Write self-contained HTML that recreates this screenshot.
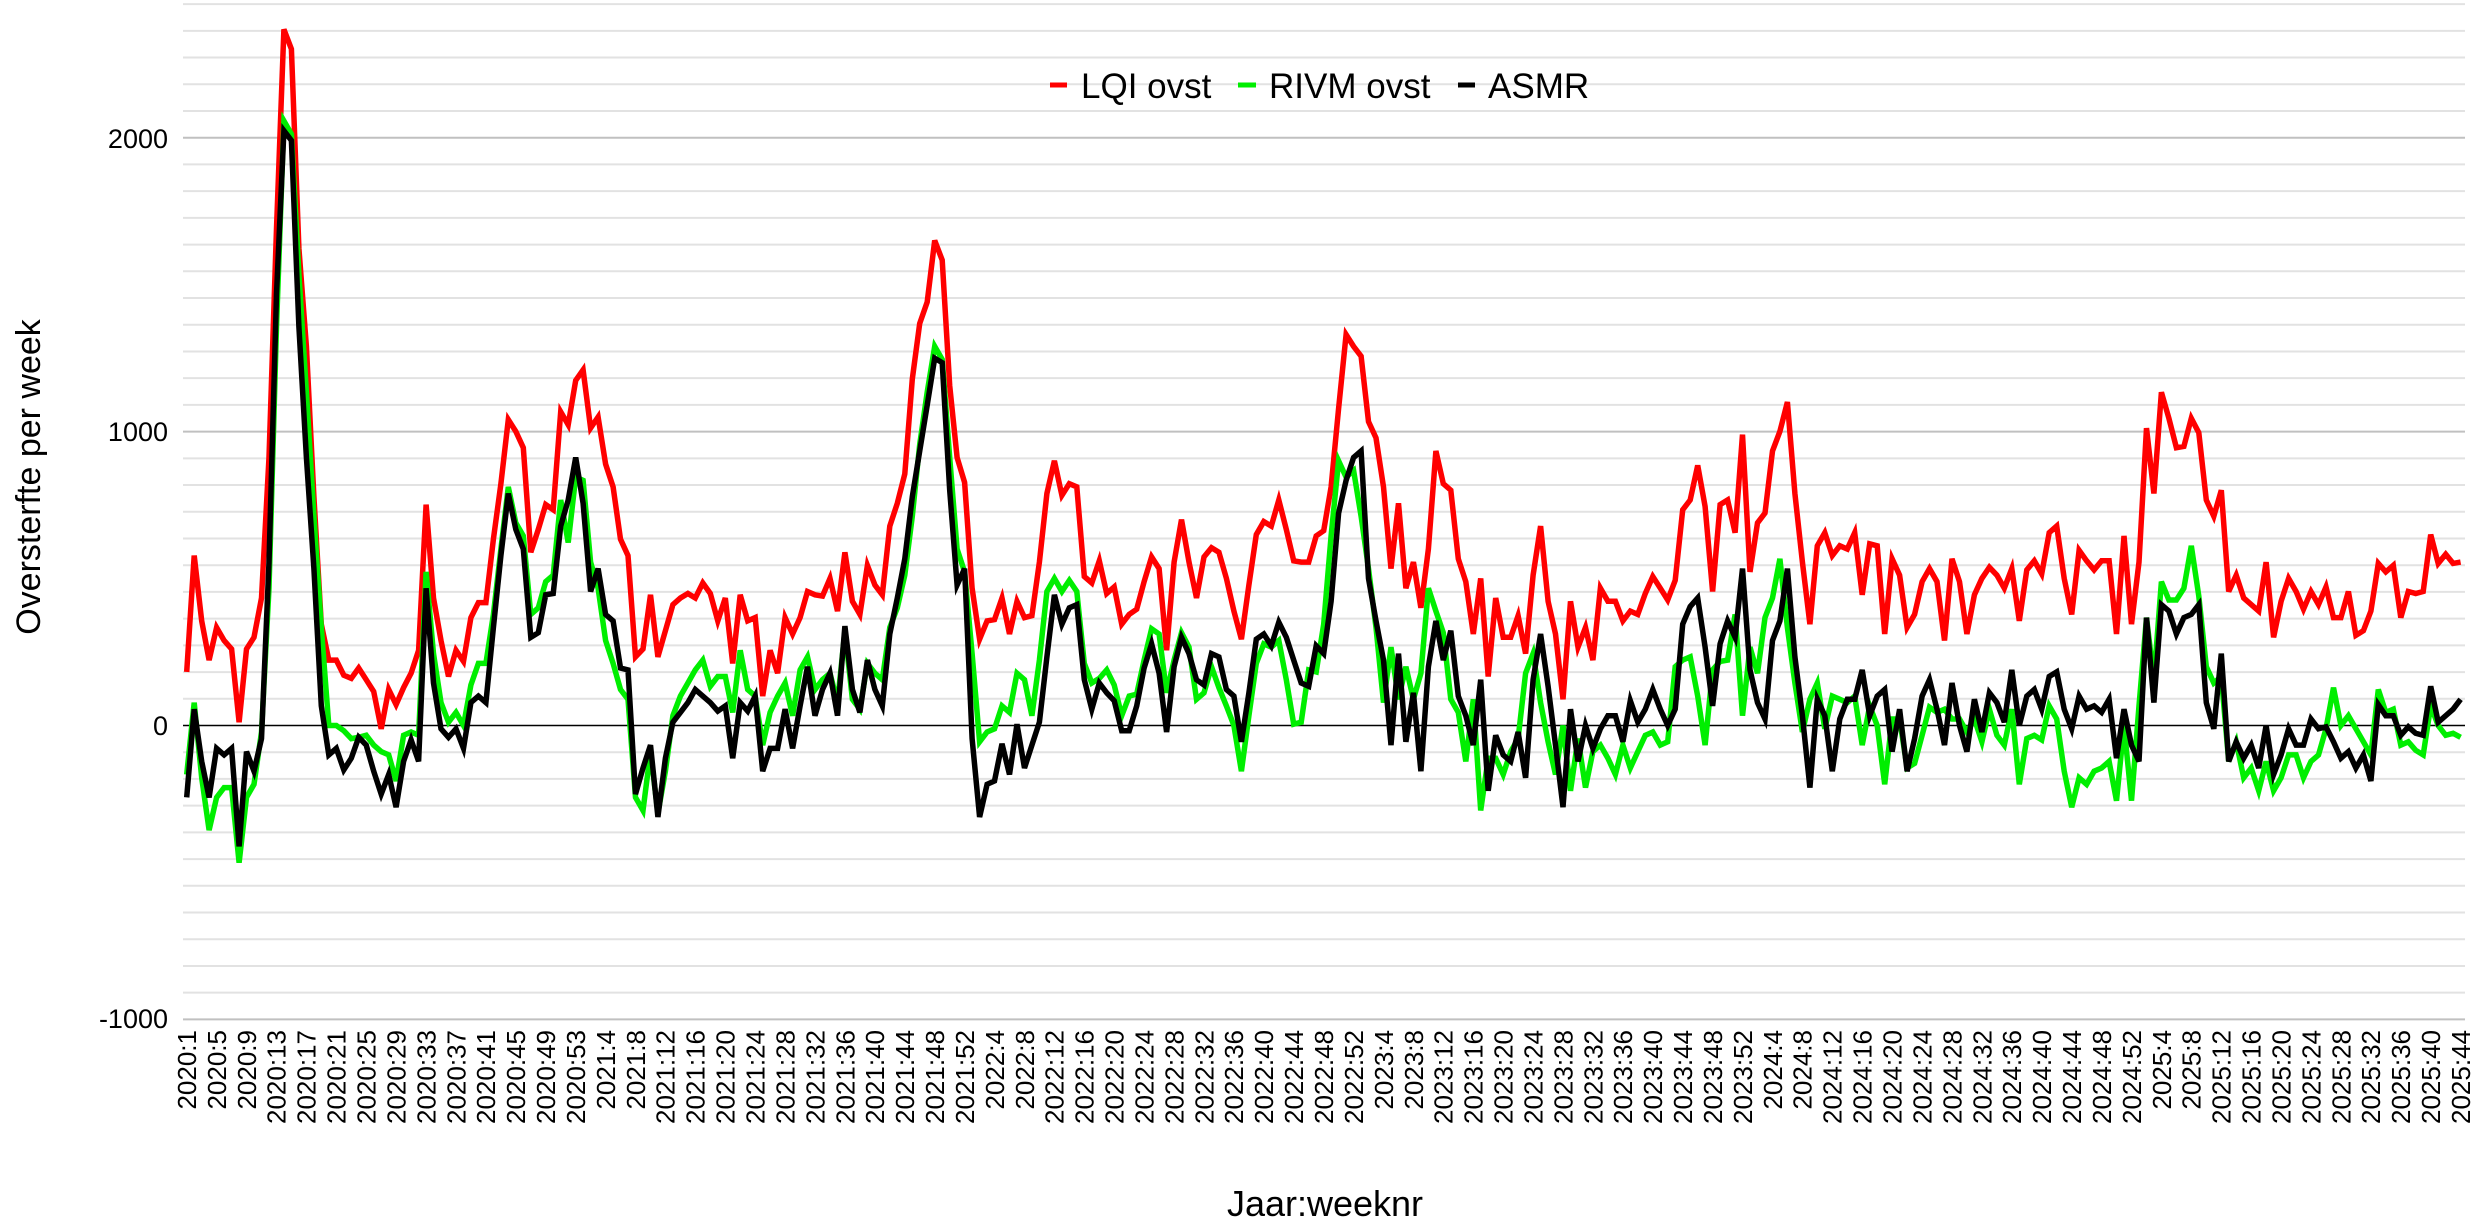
<!DOCTYPE html>
<html><head><meta charset="utf-8"><style>
html,body{margin:0;padding:0;background:#fff;}
svg{display:block;font-family:"Liberation Sans",Arial,sans-serif;}
</style></head><body>
<svg id="c" width="2478" height="1220" viewBox="0 0 2478 1220" xmlns="http://www.w3.org/2000/svg">
<g id="grid"></g>
<g id="series"></g>
<g font-size="27" text-anchor="end" fill="#000">
<text x="168" y="148">2000</text>
<text x="168" y="441">1000</text>
<text x="168" y="735">0</text>
<text x="168" y="1028">-1000</text>
</g>
<text transform="translate(40,477) rotate(-90)" font-size="34" text-anchor="middle">Oversterfte per week</text>
<text x="1325" y="1216" font-size="36" text-anchor="middle">Jaar:weeknr</text>
<g font-size="35">
<line x1="1050" y1="85" x2="1067" y2="85" stroke="#ff0000" stroke-width="5"/>
<text x="1081" y="98">LQI ovst</text>
<line x1="1238" y1="85" x2="1256" y2="85" stroke="#00ee00" stroke-width="5"/>
<text x="1269" y="98">RIVM ovst</text>
<line x1="1458" y1="85" x2="1475" y2="85" stroke="#000" stroke-width="5"/>
<text x="1488" y="98">ASMR</text>
</g>
<g id="xl" font-size="26" text-anchor="end">
<text transform="translate(196.0,1030) rotate(-90)">2020:1</text>
<text transform="translate(225.9,1030) rotate(-90)">2020:5</text>
<text transform="translate(255.8,1030) rotate(-90)">2020:9</text>
<text transform="translate(285.7,1030) rotate(-90)">2020:13</text>
<text transform="translate(315.7,1030) rotate(-90)">2020:17</text>
<text transform="translate(345.6,1030) rotate(-90)">2020:21</text>
<text transform="translate(375.5,1030) rotate(-90)">2020:25</text>
<text transform="translate(405.4,1030) rotate(-90)">2020:29</text>
<text transform="translate(435.4,1030) rotate(-90)">2020:33</text>
<text transform="translate(465.3,1030) rotate(-90)">2020:37</text>
<text transform="translate(495.2,1030) rotate(-90)">2020:41</text>
<text transform="translate(525.1,1030) rotate(-90)">2020:45</text>
<text transform="translate(555.0,1030) rotate(-90)">2020:49</text>
<text transform="translate(585.0,1030) rotate(-90)">2020:53</text>
<text transform="translate(614.9,1030) rotate(-90)">2021:4</text>
<text transform="translate(644.8,1030) rotate(-90)">2021:8</text>
<text transform="translate(674.7,1030) rotate(-90)">2021:12</text>
<text transform="translate(704.6,1030) rotate(-90)">2021:16</text>
<text transform="translate(734.6,1030) rotate(-90)">2021:20</text>
<text transform="translate(764.5,1030) rotate(-90)">2021:24</text>
<text transform="translate(794.4,1030) rotate(-90)">2021:28</text>
<text transform="translate(824.3,1030) rotate(-90)">2021:32</text>
<text transform="translate(854.3,1030) rotate(-90)">2021:36</text>
<text transform="translate(884.2,1030) rotate(-90)">2021:40</text>
<text transform="translate(914.1,1030) rotate(-90)">2021:44</text>
<text transform="translate(944.0,1030) rotate(-90)">2021:48</text>
<text transform="translate(973.9,1030) rotate(-90)">2021:52</text>
<text transform="translate(1003.9,1030) rotate(-90)">2022:4</text>
<text transform="translate(1033.8,1030) rotate(-90)">2022:8</text>
<text transform="translate(1063.7,1030) rotate(-90)">2022:12</text>
<text transform="translate(1093.6,1030) rotate(-90)">2022:16</text>
<text transform="translate(1123.5,1030) rotate(-90)">2022:20</text>
<text transform="translate(1153.5,1030) rotate(-90)">2022:24</text>
<text transform="translate(1183.4,1030) rotate(-90)">2022:28</text>
<text transform="translate(1213.3,1030) rotate(-90)">2022:32</text>
<text transform="translate(1243.2,1030) rotate(-90)">2022:36</text>
<text transform="translate(1273.2,1030) rotate(-90)">2022:40</text>
<text transform="translate(1303.1,1030) rotate(-90)">2022:44</text>
<text transform="translate(1333.0,1030) rotate(-90)">2022:48</text>
<text transform="translate(1362.9,1030) rotate(-90)">2022:52</text>
<text transform="translate(1392.8,1030) rotate(-90)">2023:4</text>
<text transform="translate(1422.8,1030) rotate(-90)">2023:8</text>
<text transform="translate(1452.7,1030) rotate(-90)">2023:12</text>
<text transform="translate(1482.6,1030) rotate(-90)">2023:16</text>
<text transform="translate(1512.5,1030) rotate(-90)">2023:20</text>
<text transform="translate(1542.4,1030) rotate(-90)">2023:24</text>
<text transform="translate(1572.4,1030) rotate(-90)">2023:28</text>
<text transform="translate(1602.3,1030) rotate(-90)">2023:32</text>
<text transform="translate(1632.2,1030) rotate(-90)">2023:36</text>
<text transform="translate(1662.1,1030) rotate(-90)">2023:40</text>
<text transform="translate(1692.1,1030) rotate(-90)">2023:44</text>
<text transform="translate(1722.0,1030) rotate(-90)">2023:48</text>
<text transform="translate(1751.9,1030) rotate(-90)">2023:52</text>
<text transform="translate(1781.8,1030) rotate(-90)">2024:4</text>
<text transform="translate(1811.7,1030) rotate(-90)">2024:8</text>
<text transform="translate(1841.7,1030) rotate(-90)">2024:12</text>
<text transform="translate(1871.6,1030) rotate(-90)">2024:16</text>
<text transform="translate(1901.5,1030) rotate(-90)">2024:20</text>
<text transform="translate(1931.4,1030) rotate(-90)">2024:24</text>
<text transform="translate(1961.3,1030) rotate(-90)">2024:28</text>
<text transform="translate(1991.3,1030) rotate(-90)">2024:32</text>
<text transform="translate(2021.2,1030) rotate(-90)">2024:36</text>
<text transform="translate(2051.1,1030) rotate(-90)">2024:40</text>
<text transform="translate(2081.0,1030) rotate(-90)">2024:44</text>
<text transform="translate(2111.0,1030) rotate(-90)">2024:48</text>
<text transform="translate(2140.9,1030) rotate(-90)">2024:52</text>
<text transform="translate(2170.8,1030) rotate(-90)">2025:4</text>
<text transform="translate(2200.7,1030) rotate(-90)">2025:8</text>
<text transform="translate(2230.6,1030) rotate(-90)">2025:12</text>
<text transform="translate(2260.6,1030) rotate(-90)">2025:16</text>
<text transform="translate(2290.5,1030) rotate(-90)">2025:20</text>
<text transform="translate(2320.4,1030) rotate(-90)">2025:24</text>
<text transform="translate(2350.3,1030) rotate(-90)">2025:28</text>
<text transform="translate(2380.2,1030) rotate(-90)">2025:32</text>
<text transform="translate(2410.2,1030) rotate(-90)">2025:36</text>
<text transform="translate(2440.1,1030) rotate(-90)">2025:40</text>
<text transform="translate(2470.0,1030) rotate(-90)">2025:44</text>
</g>
</svg>
<script>
(function(){
var NS="http://www.w3.org/2000/svg";
var grid=document.getElementById("grid");
function ln(x1,y1,x2,y2,c,w){var l=document.createElementNS(NS,"line");l.setAttribute("x1",x1);l.setAttribute("y1",y1);l.setAttribute("x2",x2);l.setAttribute("y2",y2);l.setAttribute("stroke",c);l.setAttribute("stroke-width",w);grid.appendChild(l);}
var y0=725.5,u=293.9/11;
for(var k=-11;k<=27;k++){var y=y0-k*u;
 if(k===0) continue;
 if(k%11===0) ln(183,y,2465,y,"#c0c0c0",2); else ln(183,y,2465,y,"#e2e2e2",2);}
ln(183,y0,2465,y0,"#000",1.5);
var red=[1028,850,950,1010,960,980,993,1105,993,975,915,700,350,45,75,380,530,760,955,1010,1010,1033,1038,1022,1040,1058,1115,1055,1078,1052,1030,995,772,915,980,1035,995,1012,945,922,922,825,740,642,660,685,845,810,772,780,630,650,582,566,655,638,710,745,825,850,1005,993,910,1005,965,925,915,908,915,892,908,950,915,1015,910,950,945,1065,995,
1030,945,970,945,905,910,912,885,935,845,920,940,865,895,910,805,770,725,580,495,462,368,398,590,700,738,900,978,950,948,915,970,920,945,942,860,755,705,758,740,745,882,892,858,908,898,955,940,932,890,852,870,995,860,795,860,915,852,838,845,885,935,978,895,818,798,805,765,810,858,860,860,820,812,745,625,512,
530,545,645,670,745,870,770,900,860,930,840,690,740,750,855,890,970,885,1035,915,975,975,942,1000,880,805,920,970,1070,920,990,960,1010,900,920,920,950,935,940,908,882,900,918,888,780,765,712,775,905,772,765,815,665,875,800,785,690,660,615,755,860,955,835,815,850,835,840,815,910,832,835,970,855,
880,960,940,890,870,890,980,855,890,970,910,885,868,880,900,870,950,872,858,878,815,805,885,940,842,858,872,858,858,970,820,955,860,655,755,600,640,685,683,640,662,765,790,750,905,880,915,925,935,860,975,920,885,905,932,905,925,898,945,945,905,972,965,935,862,875,865,945,905,908,905,818,862,848,862,860];
var grn=[1185,1075,1190,1270,1220,1205,1205,1320,1220,1200,1120,900,500,185,205,420,600,790,960,1110,1110,1118,1130,1128,1125,1140,1150,1155,1195,1125,1120,1125,875,1000,1075,1105,1090,1110,1048,1015,1015,940,840,745,800,820,940,930,890,880,765,830,730,735,860,900,980,1015,1055,1070,1220,1240,1150,1245,1180,1095,1065,1045,1025,1010,1050,1035,1035,1090,995,1055,1065,1140,1090,
1065,1045,1095,1025,1005,1055,1040,1030,1075,965,1070,1085,1015,1030,1040,960,930,880,790,680,600,530,550,700,840,875,1000,1135,1120,1115,1080,1090,1030,1040,1095,1010,905,885,905,888,905,1015,1045,1038,1025,1048,1095,1065,1062,1010,962,970,1060,1010,968,990,1070,1060,1020,1052,1080,1110,1180,1095,1015,985,990,980,1040,1108,1105,1025,1028,955,820,705,730,
720,790,870,960,1075,990,1070,1020,1070,1030,900,935,968,1070,1090,1165,1070,1240,1160,1160,1185,1150,1130,1030,1000,1075,1135,1185,1110,1210,1130,1205,1150,1140,1160,1185,1140,1175,1150,1125,1120,1140,1135,1020,1010,1005,1065,1140,1025,1012,1010,940,1095,990,1030,945,915,855,960,1045,1120,1070,1045,1115,1065,1070,1075,1065,1140,1080,1110,1200,1100,
1100,1175,1168,1125,1082,1090,1085,1100,1100,1120,1100,1135,1085,1125,1140,1085,1200,1130,1125,1132,1080,1100,1180,1235,1190,1200,1180,1175,1165,1225,1110,1225,1080,945,1040,890,918,918,900,835,912,1020,1045,1035,1165,1135,1190,1175,1210,1165,1210,1190,1155,1155,1190,1165,1155,1115,1052,1110,1095,1115,1135,1155,1055,1090,1085,1140,1135,1148,1155,1080,1110,1125,1122,1128];
var blk=[1220,1085,1165,1220,1145,1155,1145,1295,1150,1180,1130,860,450,200,215,500,700,870,1080,1155,1145,1178,1160,1128,1140,1180,1215,1185,1235,1165,1132,1165,900,1045,1115,1128,1115,1145,1075,1065,1075,960,850,755,810,840,975,968,910,908,805,765,700,770,905,870,940,950,1022,1025,1215,1175,1140,1250,1160,1105,1090,1075,1055,1065,1075,1088,1080,1160,1075,1088,1065,1180,1145,
1145,1085,1145,1080,1020,1095,1055,1030,1095,958,1055,1090,1010,1055,1080,970,915,855,760,690,620,548,555,750,895,870,1130,1250,1200,1195,1138,1185,1108,1175,1140,1105,1005,910,955,930,925,1040,1085,1045,1060,1072,1118,1118,1080,1022,985,1030,1120,1020,975,1000,1040,1048,1000,1005,1055,1065,1135,1060,978,970,988,952,975,1010,1045,1050,988,1000,920,785,735,
700,690,885,950,1010,1140,1000,1135,1060,1180,1020,950,1010,965,1065,1095,1140,1040,1210,1125,1155,1165,1120,1190,1040,970,1050,1140,1235,1085,1165,1110,1145,1115,1095,1095,1135,1072,1105,1085,1055,1085,1110,1085,955,928,915,990,1080,985,950,975,870,1025,1075,1100,980,950,870,1005,1095,1205,1070,1095,1180,1100,1070,1070,1025,1095,1065,1055,1150,
1085,1180,1130,1065,1040,1085,1140,1045,1110,1150,1070,1120,1060,1075,1105,1025,1110,1065,1055,1085,1035,1028,1085,1115,1065,1085,1080,1090,1070,1160,1085,1140,1165,945,1075,925,935,970,945,940,925,1075,1115,1000,1165,1135,1160,1140,1175,1110,1185,1155,1115,1140,1140,1100,1115,1112,1135,1160,1150,1175,1155,1195,1078,1095,1095,1125,1112,1122,1125,1050,1105,1095,1085,1070];
var sg=document.getElementById("series");
function pl(arr,col){var p=[];for(var i=0;i<arr.length;i++){p.push((186.7+7.48*i).toFixed(1)+","+(arr[i]/1.53).toFixed(1));}
 var e=document.createElementNS(NS,"polyline");e.setAttribute("points",p.join(" "));e.setAttribute("fill","none");e.setAttribute("stroke",col);e.setAttribute("stroke-width","5.5");e.setAttribute("stroke-linejoin","miter");sg.appendChild(e);}
pl(red,"#ff0000");pl(grn,"#00ee00");pl(blk,"#000000");
})();
</script>
</body></html>
